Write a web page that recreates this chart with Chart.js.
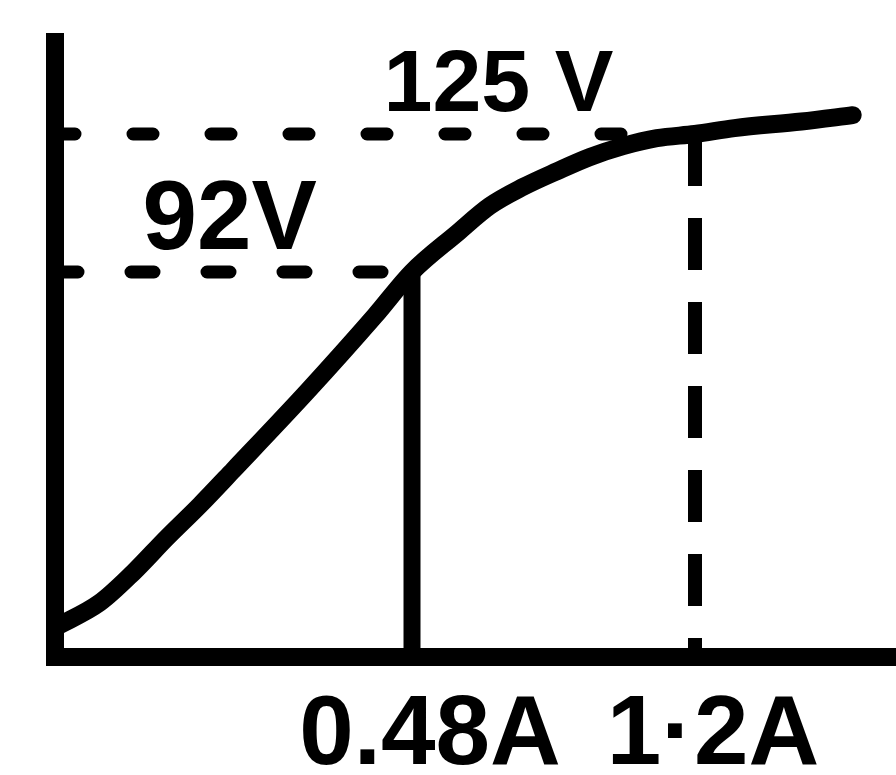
<!DOCTYPE html>
<html>
<head>
<meta charset="utf-8">
<title>Open-circuit characteristic</title>
<script src="https://cdn.jsdelivr.net/npm/chart.js@4.4.1/dist/chart.umd.min.js"></script>
<style>
  html, body { margin: 0; padding: 0; background: #ffffff; }
  #wrap { width: 896px; height: 775px; position: relative; }
</style>
</head>
<body>
<div id="wrap"><canvas id="chart"></canvas></div>
<script>
// Field current (A) against generated voltage (V) along the magnetisation curve
const curveAmps  = [0, 0.06, 0.105, 0.15, 0.195, 0.24, 0.34, 0.43, 0.48, 0.595, 0.678, 0.762, 0.849, 0.933, 1.017, 1.103, 1.2, 1.3, 1.47, 1.6];
const curveVolts = [7, 12.9, 20.1, 28.4, 36.3, 44.7, 63.6, 81.5, 92, 101.3, 107.8, 112.3, 116.1, 119.5, 122.1, 124, 125, 126.4, 128, 129.5];

// Marked operating points
const markAmps   = [0.48, 1.2];
const markVolts  = [92, 125];
const ampLabels  = ['0.48A', '1·2A'];
const voltLabels = ['92V', '125 V'];

// Linear axis drawn "not to scale": piecewise-linear between break values
class BrokenLinearScale extends Chart.LinearScale {
  static id = 'brokenLinear';
  static defaults = Chart.LinearScale.defaults;

  toFraction(v) {
    const k = this.options.breaks, f = this.options.breakFractions;
    let i = 1;
    while (i < k.length - 1 && v > k[i]) i++;
    return f[i - 1] + (v - k[i - 1]) / (k[i] - k[i - 1]) * (f[i] - f[i - 1]);
  }
  fromFraction(d) {
    const k = this.options.breaks, f = this.options.breakFractions;
    let i = 1;
    while (i < f.length - 1 && d > f[i]) i++;
    return k[i - 1] + (d - f[i - 1]) / (f[i] - f[i - 1]) * (k[i] - k[i - 1]);
  }
  getPixelForValue(value) {
    if (value === null || value === undefined || isNaN(value)) return NaN;
    return this.getPixelForDecimal(this.toFraction(+value));
  }
  getValueForPixel(pixel) {
    return this.fromFraction(this.getDecimalForPixel(pixel));
  }
}
Chart.register(BrokenLinearScale);

// Hand-lettered voltage notes above each horizontal guide
const guideLabelPlugin = {
  id: 'guideLabels',
  afterDatasetsDraw(chart, args, opts) {
    const { ctx, scales: { x, y } } = chart;
    ctx.save();
    ctx.fillStyle = opts.color;
    ctx.textAlign = 'center';
    ctx.textBaseline = 'alphabetic';
    voltLabels.forEach((text, i) => {
      ctx.font = `bold ${opts.sizes[i]}px "Liberation Sans", Arial, sans-serif`;
      ctx.fillText(text, x.getPixelForValue(opts.anchorAmps[i]), y.getPixelForValue(markVolts[i]) - opts.lift);
    });
    ctx.restore();
  }
};

// Guide line styles: horizontal run to the axis, vertical drop to the axis
const hDash  = [[23, 53], [20, 58]];
const vDash  = [[], [52, 32]];
const hWidth = [13, 13];
const vWidth = [17, 14];

const guideSets = [];
markAmps.forEach((a, i) => {
  guideSets.push({
    data: [{ x: 0, y: markVolts[i] }, { x: a, y: markVolts[i] }],
    borderColor: '#000',
    borderWidth: hWidth[i],
    borderDash: hDash[i],
    borderCapStyle: 'round',
    pointRadius: 0,
    tension: 0
  });
  guideSets.push({
    data: [{ x: a, y: markVolts[i] }, { x: a, y: 0 }],
    borderColor: '#000',
    borderWidth: vWidth[i],
    borderDash: vDash[i],
    borderCapStyle: 'butt',
    pointRadius: 0,
    tension: 0
  });
});

new Chart(document.getElementById('chart'), {
  type: 'line',
  data: {
    datasets: [
      {
        data: curveAmps.map((a, i) => ({ x: a, y: curveVolts[i] })),
        borderColor: '#000',
        borderWidth: 18,
        borderCapStyle: 'round',
        borderJoinStyle: 'round',
        cubicInterpolationMode: 'monotone',
        pointRadius: 0
      },
      ...guideSets
    ]
  },
  options: {
    responsive: true,
    maintainAspectRatio: false,
    animation: false,
    events: [],
    layout: { padding: { left: 55, top: 42, right: 0, bottom: -42 } },
    plugins: {
      legend: { display: false },
      tooltip: { enabled: false },
      guideLabels: { color: '#000', sizes: [98, 88], anchorAmps: [0.235, 0.70], lift: 23 }
    },
    scales: {
      x: {
        type: 'brokenLinear',
        min: 0,
        max: 1.71,
        breaks: [0, 0.48, 1.2, 1.71],
        breakFractions: [0, 0.4245, 0.761, 1],
        afterBuildTicks: scale => { scale.ticks = markAmps.map(v => ({ value: v })); },
        ticks: {
          autoSkip: false,
          maxRotation: 0,
          padding: 37,
          labelOffset: 18,
          color: '#000',
          font: { family: '"Liberation Sans", Arial, sans-serif', size: 98, weight: 'bold', lineHeight: 0.88 },
          callback: (value, index) => ampLabels[index]
        },
        grid: { display: true, color: 'rgba(0,0,0,0)', drawTicks: false },
        border: { display: true, color: '#000', width: 18 }
      },
      y: {
        type: 'linear',
        min: 0,
        max: 147,
        ticks: { display: false },
        grid: { display: true, color: 'rgba(0,0,0,0)', drawTicks: false },
        border: { display: true, color: '#000', width: 18 }
      }
    }
  },
  plugins: [guideLabelPlugin]
});
</script>
</body>
</html>
